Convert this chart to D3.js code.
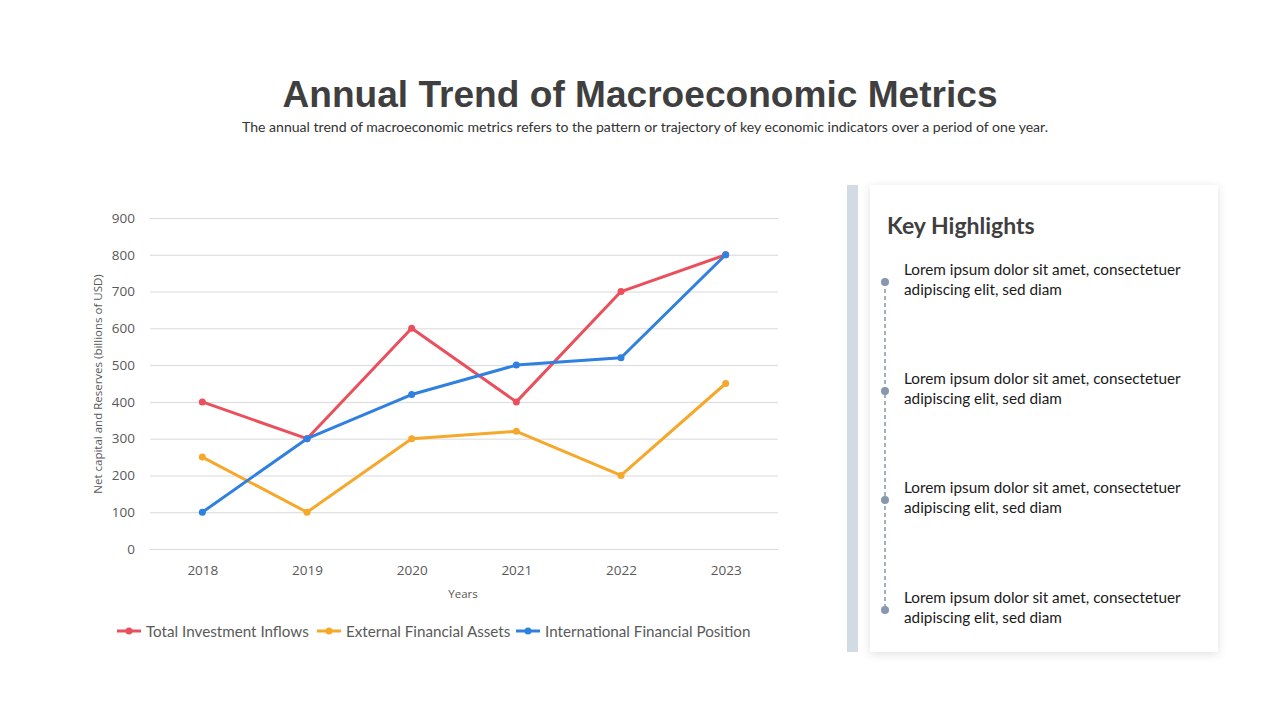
<!DOCTYPE html>
<html><head><meta charset="utf-8">
<script src="https://cdn.jsdelivr.net/npm/d3@7"></script>
<style>body{margin:0;background:#fff;}svg{display:block;}</style>
</head><body>
<svg id="c" width="1280" height="720"></svg>
<script>
const years = ["2018","2019","2020","2021","2022","2023"];
const totalInvestmentInflows = [400,300,600,400,700,800];
const externalFinancialAssets = [250,100,300,320,200,450];
const internationalFinancialPosition = [100,300,420,500,520,800];
const seriesNames = ["Total Investment Inflows","External Financial Assets","International Financial Position"];
const seriesColors = ["#ea4f5c","#f5a82a","#2f80df"];
const yTicks = [0,100,200,300,400,500,600,700,800,900];
const highlights = ["Lorem ipsum dolor sit amet, consectetuer","adipiscing elit, sed diam"];

const svg = d3.select("#c");
const defs = svg.append("defs");
const f = defs.append("filter").attr("id","sh").attr("x","-10%").attr("y","-10%").attr("width","120%").attr("height","120%");
f.append("feDropShadow").attr("dx",0).attr("dy",2).attr("stdDeviation",5).attr("flood-color","#000").attr("flood-opacity",0.12);

svg.append("text").attr("x",640).attr("y",107).attr("text-anchor","middle")
  .attr("font-family","Liberation Sans, Arial, sans-serif").attr("font-weight","bold").attr("font-size",37)
  .attr("fill","#3f3f3f").attr("textLength",715).attr("lengthAdjust","spacingAndGlyphs")
  .text("Annual Trend of Macroeconomic Metrics");
svg.append("text").attr("x",645).attr("y",132).attr("text-anchor","middle")
  .attr("font-family","Lato, sans-serif").attr("font-size",13.5).attr("fill","#333")
  .attr("textLength",806).attr("lengthAdjust","spacingAndGlyphs")
  .text("The annual trend of macroeconomic metrics refers  to the pattern or trajectory of key economic indicators over a period of one year.");

const x = d3.scalePoint().domain(years).range([150,778]).padding(0.5);
const y = d3.scaleLinear().domain([0,900]).range([549,218]);

const g = svg.append("g");
const ya = g.append("g").attr("transform","translate(150,0)")
  .call(d3.axisLeft(y).tickValues(yTicks).tickSize(-628).tickPadding(15));
ya.select(".domain").remove();
ya.selectAll(".tick line").attr("stroke","#d9d9d9");
ya.selectAll(".tick text").attr("font-family","Open Sans, sans-serif").attr("font-size",13.5).attr("fill","#595959");

const xa = g.append("g").attr("transform","translate(0,549)")
  .call(d3.axisBottom(x).tickSize(0).tickPadding(16));
xa.select(".domain").remove();
xa.selectAll(".tick text").attr("font-family","Open Sans, sans-serif").attr("font-size",13.5).attr("fill","#595959");

svg.append("text").attr("transform","translate(102,384) rotate(-90)").attr("text-anchor","middle")
  .attr("font-family","Open Sans, sans-serif").attr("font-size",11.5).attr("fill","#595959")
  .text("Net capital and Reserves  (billions  of USD)");
svg.append("text").attr("x",463).attr("y",598).attr("text-anchor","middle")
  .attr("font-family","Open Sans, sans-serif").attr("font-size",11.5).attr("fill","#595959").text("Years");

const seriesData = [totalInvestmentInflows, externalFinancialAssets, internationalFinancialPosition];
const line = d3.line().x((d,i)=>x(years[i])).y(d=>y(d));
seriesData.forEach((vals,k)=>{
  g.append("path").datum(vals).attr("d",line).attr("fill","none")
    .attr("stroke",seriesColors[k]).attr("stroke-width",3).attr("stroke-linejoin","round");
  g.selectAll(null).data(vals).enter().append("circle")
    .attr("cx",(d,i)=>x(years[i])).attr("cy",d=>y(d)).attr("r",3.5).attr("fill",seriesColors[k]);
});

const legX = [117,317,516];
seriesNames.forEach((n,k)=>{
  const lg = svg.append("g").attr("transform",`translate(${legX[k]},631)`);
  lg.append("line").attr("x1",0).attr("x2",24).attr("stroke",seriesColors[k]).attr("stroke-width",3);
  lg.append("circle").attr("cx",12).attr("r",3.5).attr("fill",seriesColors[k]);
  lg.append("text").attr("x",29).attr("y",5.5).attr("font-family","Lato, sans-serif").attr("font-size",15.2)
    .attr("fill","#595959").text(n);
});

svg.append("rect").attr("x",847).attr("y",185).attr("width",11).attr("height",467).attr("fill","#d2dae3");
svg.append("rect").attr("x",870).attr("y",185).attr("width",348).attr("height",467).attr("fill","#fff").attr("filter","url(#sh)");
svg.append("text").attr("x",887).attr("y",234).attr("font-family","Lato, sans-serif").attr("font-weight","bold")
  .attr("font-size",23).attr("fill","#3f3f3f").text("Key Highlights");
const dotY = [282,391,500,610];
svg.append("line").attr("x1",885).attr("x2",885).attr("y1",dotY[0]).attr("y2",dotY[3])
  .attr("stroke","#8797ad").attr("stroke-width",1.5).attr("stroke-dasharray","4,3");
dotY.forEach(dy=>{
  svg.append("circle").attr("cx",885).attr("cy",dy).attr("r",4).attr("fill","#8797ad");
  const t = svg.append("text").attr("font-family","Lato, sans-serif").attr("font-size",15.3).attr("fill","#1a1a1a");
  t.append("tspan").attr("x",904).attr("y",dy-7).text(highlights[0]);
  t.append("tspan").attr("x",904).attr("y",dy+13).text(highlights[1]);
});
</script>
</body></html>
